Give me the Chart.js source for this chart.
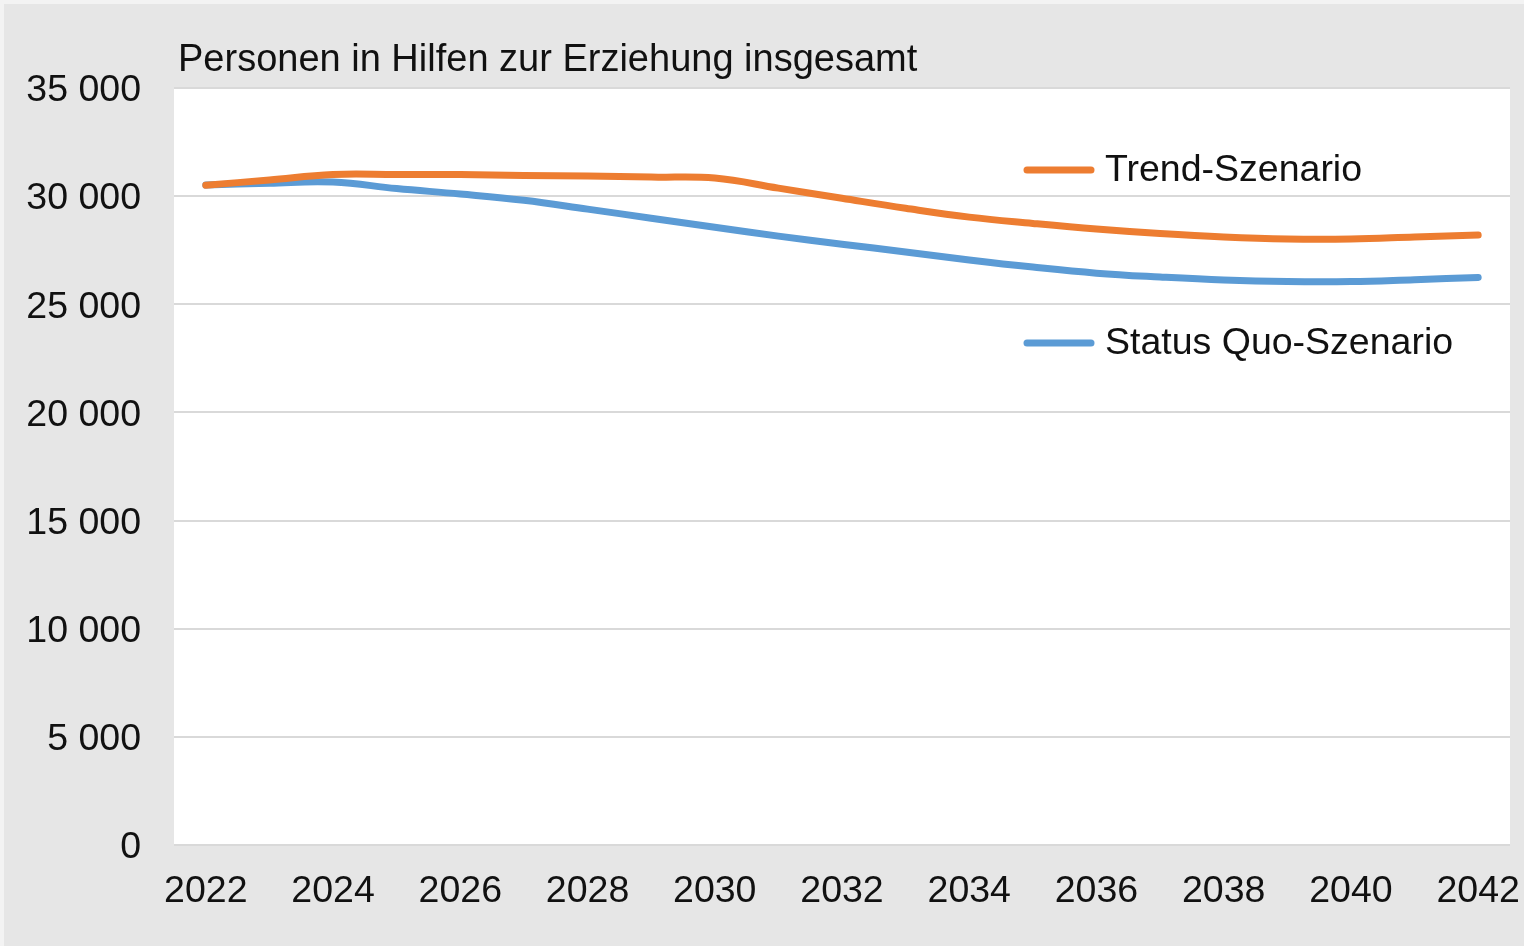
<!DOCTYPE html>
<html lang="de">
<head>
<meta charset="utf-8">
<title>Personen in Hilfen zur Erziehung insgesamt</title>
<script src="https://cdn.jsdelivr.net/npm/chart.js@4/dist/chart.umd.min.js"></script>
<style>
  html, body { margin: 0; padding: 0; background: #f3f3f3; }
  #wrap { position: absolute; left: 4px; top: 4px; width: 1520px; height: 942px; background: #e6e6e6; }
  canvas { display: block; }
</style>
</head>
<body>
<div id="wrap"><canvas id="chart" width="1520" height="942"></canvas></div>
<script>
"use strict";
const chartTitle = "Personen in Hilfen zur Erziehung insgesamt";
const years = ["2022", "2023", "2024", "2025", "2026", "2027", "2028", "2029", "2030", "2031", "2032",
    "2033", "2034", "2035", "2036", "2037", "2038", "2039", "2040", "2041", "2042"];
const trendSzenario = [30500, 30750, 31000, 31000, 31000, 30960, 30930, 30880, 30840, 30370, 29900,
    29440, 29030, 28740, 28480, 28270, 28110, 28020, 28020, 28110, 28200];
const statusQuoSzenario = [30510, 30600, 30650, 30350, 30100, 29810, 29400, 28980, 28560, 28150, 27780,
    27420, 27050, 26720, 26440, 26260, 26120, 26050, 26050, 26140, 26240];
const yTicks = [0, 5000, 10000, 15000, 20000, 25000, 30000, 35000];

const FONT = "'Liberation Sans', Arial, sans-serif";

// weisser Hintergrund der Zeichenflaeche
const plotBackground = {
    id: "plotBackground",
    beforeDraw(chart) {
        const { ctx, chartArea: a } = chart;
        ctx.save();
        ctx.fillStyle = "#ffffff";
        ctx.fillRect(a.left, a.top, a.right - a.left, a.bottom - a.top);
        ctx.restore();
    }
};

// Titel und Legende wie im Original innerhalb / oberhalb der Zeichenflaeche
const titleAndLegend = {
    id: "titleAndLegend",
    afterDraw(chart) {
        const { ctx, chartArea: a } = chart;
        ctx.save();
        ctx.fillStyle = "#111";
        ctx.textBaseline = "middle";
        ctx.font = "38px " + FONT;
        ctx.fillText(chartTitle, a.left + 4, a.top - 27);
        ctx.font = "37.5px " + FONT;
        const rows = [a.top + 82, a.top + 255];
        chart.data.datasets.forEach((ds, i) => {
            const y = rows[i];
            ctx.strokeStyle = ds.borderColor;
            ctx.lineWidth = 7;
            ctx.lineCap = "round";
            ctx.beginPath();
            ctx.moveTo(a.right - 483, y);
            ctx.lineTo(a.right - 419, y);
            ctx.stroke();
            ctx.fillText(ds.label, a.right - 405, y + 1);
        });
        ctx.restore();
    }
};

new Chart(document.getElementById("chart"), {
    type: "line",
    data: {
        labels: years,
        datasets: [
            {
                label: "Trend-Szenario",
                data: trendSzenario,
                borderColor: "#ed7d31",
                borderWidth: 7,
                borderCapStyle: "round",
                pointRadius: 0,
                tension: 0.4,
            },
            {
                label: "Status Quo-Szenario",
                data: statusQuoSzenario,
                borderColor: "#5b9bd5",
                borderWidth: 7,
                borderCapStyle: "round",
                pointRadius: 0,
                tension: 0.4,
            },
        ],
    },
    options: {
        responsive: false,
        animation: false,
        layout: { padding: { left: 0, top: 84, right: 14, bottom: 0 } },
        plugins: {
            legend: { display: false },
            title: { display: false },
            tooltip: { enabled: false },
        },
        scales: {
            x: {
                offset: true,
                grid: { display: false, drawTicks: false },
                border: { display: false },
                ticks: {
                    autoSkip: false,
                    maxRotation: 0,
                    padding: 24,
                    color: "#111",
                    font: { family: FONT, size: 37.5 },
                    callback: (v, i) => (i % 2 === 0 ? years[i] : ""),
                },
                afterFit: (s) => {
                    s.height = 101;
                    s.paddingLeft = 0;
                    s.paddingRight = 0;
                },
            },
            y: {
                min: 0,
                max: 35000,
                grid: { color: "#d9d9d9", lineWidth: 2, drawTicks: false },
                border: { display: false },
                afterBuildTicks: (s) => { s.ticks = yTicks.map((v) => ({ value: v })); },
                ticks: {
                    padding: 33,
                    labelOffset: 3,
                    color: "#111",
                    font: { family: FONT, size: 37.5 },
                    callback: (v) => String(v).replace(/\B(?=(\d{3})+(?!\d))/g, " "),
                },
                afterFit: (s) => {
                    s.width = 170;
                    s.paddingTop = 0;
                    s.paddingBottom = 0;
                },
            },
        },
    },
    plugins: [plotBackground, titleAndLegend],
});
</script>
</body>
</html>
